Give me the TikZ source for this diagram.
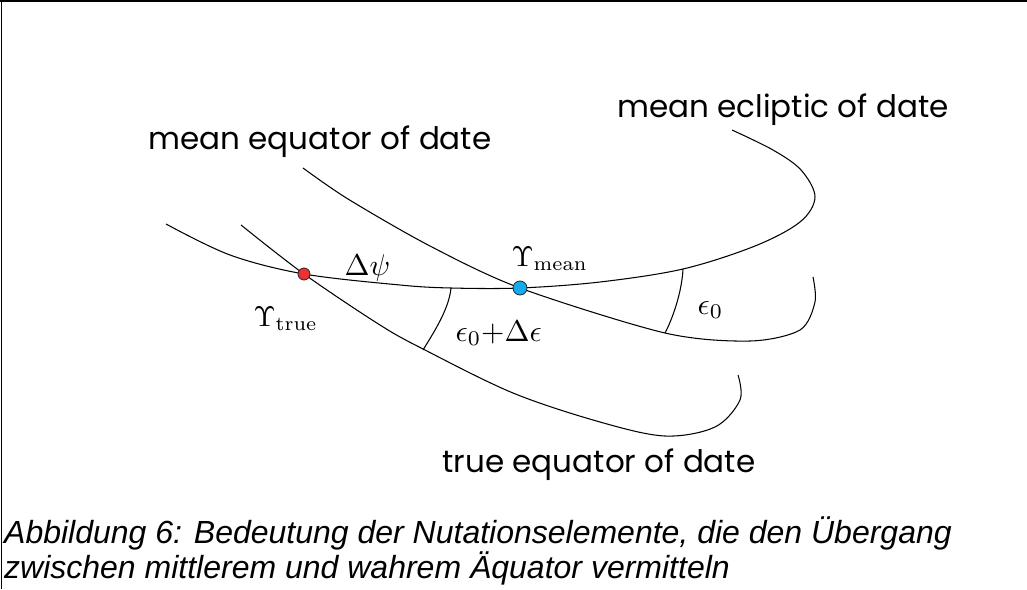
\documentclass[tikz,border=0pt]{standalone}
\usepackage{fontspec}
\newfontfamily\labfont{Poppins}
\newfontfamily\capfont{Liberation Sans}
\begin{document}
\begin{tikzpicture}[x=1pt,y=-1pt]
\useasboundingbox (0,0) rectangle (1027,589);
\tikzset{
  curve/.style={line width=1.05pt, black},
  frameline/.style={line width=1.4pt, black},
  lab/.style={font=\labfont\fontsize{31}{31}\selectfont, anchor=base, inner sep=0},
  mathlab/.style={font=\fontsize{10}{12}\selectfont, scale=3.0, inner sep=0, anchor=base west},
  ups/.style={font=\fontsize{10}{12}\selectfont, scale=2.85, inner sep=0, anchor=base west},
  captext/.style={font=\capfont\itshape\fontsize{32}{32}\selectfont, anchor=base west, inner sep=0},
  dot/.style={circle, draw=black!85, line width=0.8pt, inner sep=0},
}
% frame
\draw[frameline] (0,1) -- (1027,1);
\draw[frameline] (1.5,0) -- (1.5,589);

% key points
\coordinate (ptrue) at (304,274);
\coordinate (pmean) at (520,288);

% mean ecliptic of date
\draw[curve] plot[smooth, tension=0.55] coordinates {(166,224) (230,255) (304,274) (400,285) (451,288) (520,288) (600,282) (683,269) (755,246) (800,222) (815,197) (801,170) (773,150) (732,130)};
% mean equator of date
\draw[curve] plot[smooth, tension=0.5] coordinates {(303,168) (348,199) (430,246) (520,288) (665,333) (750,341) (800,330) (815,302) (813,277)};
% true equator of date
\draw[curve] plot[smooth, tension=0.55] coordinates {(241,225) (304,274) (380,325) (425,350) (513,393) (600,422) (665,436) (715,427) (740,400) (738,375)};

% angle arcs
\coordinate (a1) at (451,288);
\coordinate (a2) at (423,350);
\coordinate (b1) at (683,269);
\coordinate (b2) at (665,333);
\draw[curve] (a1) .. controls (449,309) and (434,332) .. (a2);
\draw[curve] (b1) .. controls (682,291) and (673,318) .. (b2);

% dots
\node[dot, fill={rgb,255:red,238;green,48;blue,48}, minimum size=12pt] (vtrue) at (ptrue) {};
\node[dot, fill={rgb,255:red,20;green,172;blue,238}, minimum size=14pt] (vmean) at (pmean) {};

% labels
\node[lab] (lecl) at (783,117) {mean ecliptic of date};
\node[lab] (lmeq) at (320,149) {mean equator of date};
\node[lab] (lteq) at (599,472) {true equator of date};

\node[mathlab] (ldpsi) at (344,275) {$\Delta\psi$};
\node[ups] (lvtrue) at (253,326) {$\Upsilon_{\mathrm{true}}$};
\node[ups] (lvmean) at (511,266) {$\Upsilon_{\mathrm{mean}}$};
\node[mathlab] (leps) at (455,341) {$\epsilon_0{+}\Delta\epsilon$};
\node[mathlab] (leps0) at (697,314) {$\epsilon_0$};

% caption
\node[captext] (cap1) at (4,543) {Abbildung 6: Bedeutung der Nutationselemente, die den Übergang};
\node[captext] (cap2) at (4,578) {zwischen mittlerem und wahrem Äquator vermitteln};
\end{tikzpicture}
\end{document}
